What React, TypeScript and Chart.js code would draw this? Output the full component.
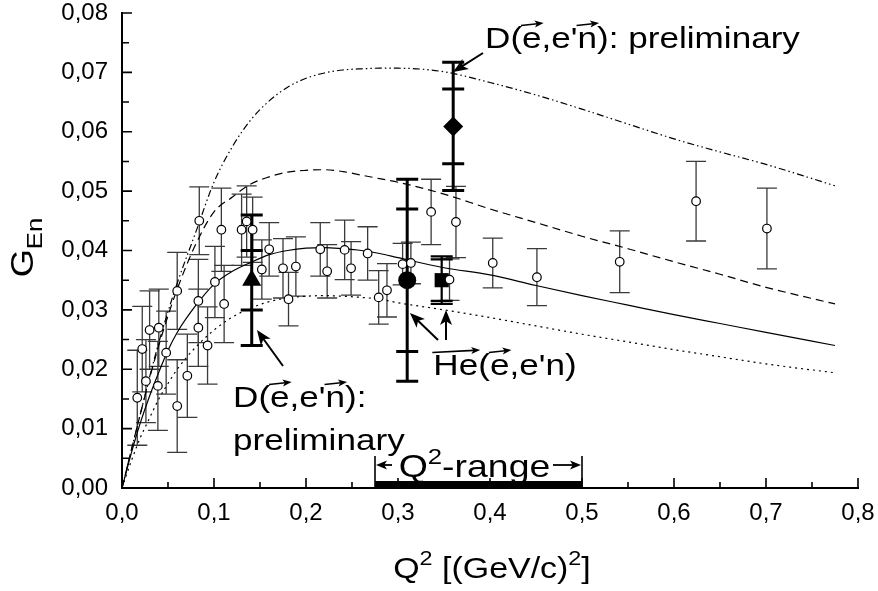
import React, { useEffect, useRef } from "react";
import { Chart, registerables } from "chart.js";
Chart.register(...registerables);

const FONT = '"Liberation Sans", Arial, Helvetica, sans-serif';

// ---- axis ticks ----
const xTickValues = [0, 0.1, 0.2, 0.3, 0.4, 0.5, 0.6, 0.7, 0.8];
const xTickLabels = ["0,0", "0,1", "0,2", "0,3", "0,4", "0,5", "0,6", "0,7", "0,8"];
const yTickValues = [0, 0.01, 0.02, 0.03, 0.04, 0.05, 0.06, 0.07, 0.08];
const yTickLabels = ["0,00", "0,01", "0,02", "0,03", "0,04", "0,05", "0,06", "0,07", "0,08"];

// ---- world data (open circles) ----
const worldQ2 = [0.0166, 0.022, 0.026, 0.03, 0.039, 0.04, 0.048, 0.06, 0.06, 0.071, 0.084, 0.083, 0.083, 0.093, 0.101, 0.108, 0.111, 0.13, 0.1355, 0.142, 0.152, 0.16, 0.175, 0.181, 0.189, 0.2155, 0.223, 0.242, 0.249, 0.267, 0.279, 0.288, 0.305, 0.314, 0.336, 0.363, 0.356, 0.403, 0.451, 0.541, 0.624, 0.701];
const worldG = [0.0152, 0.0234, 0.018, 0.0266, 0.0172, 0.027, 0.0228, 0.0332, 0.0138, 0.0189, 0.045, 0.0315, 0.027, 0.024, 0.0347, 0.0435, 0.031, 0.0435, 0.0449, 0.0435, 0.0368, 0.0402, 0.037, 0.0318, 0.0373, 0.0402, 0.0365, 0.0401, 0.037, 0.0395, 0.0321, 0.0333, 0.0377, 0.0379, 0.0465, 0.0448, 0.0351, 0.0379, 0.0355, 0.0381, 0.0483, 0.0437];
const worldErr = [0.008, 0.0072, 0.007, 0.0066, 0.0075, 0.0065, 0.007, 0.0065, 0.0078, 0.007, 0.0057, 0.007, 0.0065, 0.0065, 0.006, 0.007, 0.0065, 0.006, 0.006, 0.0055, 0.005, 0.0045, 0.005, 0.0045, 0.005, 0.0045, 0.0045, 0.005, 0.0045, 0.0045, 0.0045, 0.0045, 0.0035, 0.0035, 0.0055, 0.006, 0.0035, 0.0042, 0.0048, 0.0052, 0.0067, 0.0068];

// ---- new measurements (filled symbols) ----
const newQ2 = [0.141, 0.31, 0.3475, 0.36];
const newG = [0.035, 0.035, 0.035, 0.0609];
const newErrStat = [0.005, 0.012, 0.0035, 0.0063];
const newErrTot = [0.011, 0.017, 0.004, 0.0108];
const newStyles = ["triangle", "circle", "rect", "rectRot"];
const newRadius = [11, 9, 10, 10];

// ---- model curves ----
const curveQ2 = [0, 0.01, 0.02, 0.03, 0.04, 0.05, 0.06, 0.08, 0.1, 0.12, 0.14, 0.16, 0.18, 0.2, 0.22, 0.24, 0.26, 0.28, 0.3, 0.35, 0.4, 0.45, 0.5, 0.55, 0.6, 0.65, 0.7, 0.775];
const curveSolid = [0, 0.0058, 0.011, 0.0155, 0.0195, 0.0232, 0.0262, 0.0307, 0.0343, 0.0365, 0.038, 0.0393, 0.04, 0.0404, 0.0405, 0.0403, 0.04, 0.0395, 0.0388, 0.0371, 0.0359, 0.0341, 0.0324, 0.0308, 0.0292, 0.0277, 0.0262, 0.024];
const curveDashed = [0, 0.0063, 0.0125, 0.0185, 0.024, 0.029, 0.0335, 0.041, 0.0465, 0.049, 0.0512, 0.0524, 0.0532, 0.0535, 0.0536, 0.0533, 0.0527, 0.0521, 0.0515, 0.0495, 0.047, 0.0447, 0.0424, 0.0403, 0.0381, 0.036, 0.0338, 0.031];
const curveDotted = [0, 0.0045, 0.0085, 0.0118, 0.015, 0.0176, 0.02, 0.0237, 0.0266, 0.0288, 0.0303, 0.0314, 0.032, 0.0323, 0.0324, 0.0323, 0.0321, 0.0318, 0.0312, 0.03, 0.0287, 0.0273, 0.0259, 0.0246, 0.0233, 0.0221, 0.0209, 0.0194];
const curveDashDot = [0, 0.0063, 0.0125, 0.0187, 0.0245, 0.0297, 0.0345, 0.043, 0.0515, 0.0575, 0.062, 0.0652, 0.0675, 0.069, 0.0699, 0.0704, 0.0706, 0.0707, 0.0707, 0.0701, 0.0683, 0.0662, 0.0638, 0.0613, 0.0588, 0.0566, 0.0545, 0.0509];

// ---- Q2 range of the experiment ----
const rangeQ2 = [0.275, 0.5];

const SX = 1.17; // horizontal text stretch

type Seg = { t: string; size: number; dy?: number; vec?: boolean };

function segWidth(ctx: CanvasRenderingContext2D, s: Seg) {
  ctx.font = `${s.size}px ${FONT}`;
  return ctx.measureText(s.t).width * SX;
}

function drawArrow(ctx: CanvasRenderingContext2D, x1: number, y1: number, x2: number, y2: number, head = 13, half = 5, lw = 2) {
  const a = Math.atan2(y2 - y1, x2 - x1);
  const c = Math.cos(a), s = Math.sin(a);
  ctx.lineWidth = lw;
  ctx.beginPath();
  ctx.moveTo(x1, y1);
  ctx.lineTo(x2 - c * head * 0.7, y2 - s * head * 0.7);
  ctx.stroke();
  ctx.beginPath();
  ctx.moveTo(x2, y2);
  ctx.lineTo(x2 - c * head - s * half, y2 - s * head + c * half);
  ctx.lineTo(x2 - c * head * 0.75, y2 - s * head * 0.75);
  ctx.lineTo(x2 - c * head + s * half, y2 - s * head - c * half);
  ctx.closePath();
  ctx.fill();
}

function drawRich(ctx: CanvasRenderingContext2D, segs: Seg[], x: number, y: number, align: "left" | "center" = "left") {
  let total = 0;
  for (const s of segs) total += segWidth(ctx, s);
  let cx = align === "center" ? x - total / 2 : x;
  ctx.textAlign = "left";
  ctx.textBaseline = "alphabetic";
  for (const s of segs) {
    const w = segWidth(ctx, s);
    ctx.font = `${s.size}px ${FONT}`;
    ctx.save();
    ctx.translate(cx, y + (s.dy || 0));
    ctx.scale(SX, 1);
    ctx.fillText(s.t, 0, 0);
    ctx.restore();
    if (s.vec) {
      const ay = y - s.size * 0.8;
      drawArrow(ctx, cx - 1, ay + 1.5, cx + w + 2, ay - 1, 9, 3.5, 1.6);
    }
    cx += w;
  }
  return total;
}

const decorPlugin = {
  id: "decor",
  beforeDatasetsDraw(chart: any) {
    const ctx: CanvasRenderingContext2D = chart.ctx;
    const xs = chart.scales.x, ys = chart.scales.y;
    ctx.save();
    ctx.lineCap = "butt";
    // world error bars
    ctx.strokeStyle = "#3a3a3a";
    ctx.lineWidth = 1.3;
    for (let i = 0; i < worldQ2.length; i++) {
      const px = xs.getPixelForValue(worldQ2[i]);
      const t = ys.getPixelForValue(worldG[i] + worldErr[i]);
      const b = ys.getPixelForValue(worldG[i] - worldErr[i]);
      ctx.beginPath();
      ctx.moveTo(px, t); ctx.lineTo(px, b);
      ctx.moveTo(px - 10, t); ctx.lineTo(px + 10, t);
      ctx.moveTo(px - 10, b); ctx.lineTo(px + 10, b);
      ctx.stroke();
    }
    // new measurement error bars
    ctx.strokeStyle = "#000";
    for (let i = 0; i < newQ2.length; i++) {
      const px = xs.getPixelForValue(newQ2[i]);
      const tt = ys.getPixelForValue(newG[i] + newErrTot[i]);
      const bt = ys.getPixelForValue(newG[i] - newErrTot[i]);
      const ts = ys.getPixelForValue(newG[i] + newErrStat[i]);
      const bs = ys.getPixelForValue(newG[i] - newErrStat[i]);
      const thin = newStyles[i] === "rect";
      ctx.lineWidth = thin ? 2.2 : 3;
      const hw = 11;
      ctx.beginPath();
      ctx.moveTo(px, tt); ctx.lineTo(px, bt);
      for (const yy of [tt, bt, ts, bs]) {
        ctx.moveTo(px - hw, yy); ctx.lineTo(px + hw, yy);
      }
      ctx.stroke();
    }
    ctx.restore();
  },
  afterDraw(chart: any) {
    const ctx: CanvasRenderingContext2D = chart.ctx;
    const xs = chart.scales.x, ys = chart.scales.y;
    const area = chart.chartArea;
    const X = (v: number) => xs.getPixelForValue(v);
    const Y = (v: number) => ys.getPixelForValue(v);
    ctx.save();
    ctx.strokeStyle = "#000";
    ctx.fillStyle = "#000";
    // inward ticks
    ctx.lineWidth = 1.6;
    ctx.beginPath();
    for (let i = 0; i < xTickValues.length; i++) {
      const px = X(xTickValues[i]);
      ctx.moveTo(px, area.bottom); ctx.lineTo(px, area.bottom - 10);
      if (i < xTickValues.length - 1) {
        const pm = X((xTickValues[i] + xTickValues[i + 1]) / 2);
        ctx.moveTo(pm, area.bottom); ctx.lineTo(pm, area.bottom - 6);
      }
    }
    for (let i = 0; i < yTickValues.length; i++) {
      const py = Y(yTickValues[i]);
      ctx.moveTo(area.left, py); ctx.lineTo(area.left + 10, py);
      if (i < yTickValues.length - 1) {
        const pm = Y((yTickValues[i] + yTickValues[i + 1]) / 2);
        ctx.moveTo(area.left, pm); ctx.lineTo(area.left + 7, pm);
      }
    }
    ctx.stroke();

    // Q2 range bar
    const r0 = X(rangeQ2[0]), r1 = X(rangeQ2[1]);
    ctx.fillRect(r0, area.bottom - 7, r1 - r0, 7);
    ctx.lineWidth = 1.6;
    ctx.beginPath();
    ctx.moveTo(r0, area.bottom); ctx.lineTo(r0, area.bottom - 32);
    ctx.moveTo(r1, area.bottom); ctx.lineTo(r1, area.bottom - 32);
    ctx.stroke();
    const ay = area.bottom - 23;
    drawArrow(ctx, r0 + 17, ay, r0 + 1, ay, 11, 4.5, 1.8);
    drawArrow(ctx, r1 - 29, ay, r1 - 1, ay, 11, 4.5, 1.8);
    drawRich(ctx, [
      { t: "Q", size: 32 },
      { t: "2", size: 22, dy: -13 },
      { t: "-range", size: 32 },
    ], (r0 + r1) / 2 - 4, area.bottom - 11, "center");

    // annotations
    drawRich(ctx, [
      { t: "D(", size: 30 }, { t: "e", size: 30, vec: true }, { t: ",e'", size: 30 }, { t: "n", size: 30, vec: true }, { t: "): preliminary", size: 30 },
    ], X(0.3946), Y(0.0741));
    drawRich(ctx, [
      { t: "D(", size: 30 }, { t: "e", size: 30, vec: true }, { t: ",e'", size: 30 }, { t: "n", size: 30, vec: true }, { t: "):", size: 30 },
    ], X(0.1207), Y(0.01364));
    drawRich(ctx, [{ t: "preliminary", size: 30 }], X(0.1207), Y(0.0064));
    drawRich(ctx, [
      { t: "He", size: 30, vec: true }, { t: "(", size: 30 }, { t: "e", size: 30, vec: true }, { t: ",e'n)", size: 30 },
    ], X(0.3384), Y(0.01903));

    // annotation arrows
    drawArrow(ctx, X(0.3924), Y(0.07326), X(0.3598), Y(0.07006), 15, 6, 2);
    drawArrow(ctx, X(0.175), Y(0.02055), X(0.1467), Y(0.02661), 15, 6, 2);
    drawArrow(ctx, X(0.3435), Y(0.02493), X(0.313), Y(0.02947), 15, 6, 2);
    drawArrow(ctx, X(0.3522), Y(0.02493), X(0.3522), Y(0.02998), 15, 6, 2);

    // axis titles
    drawRich(ctx, [
      { t: "Q", size: 29 }, { t: "2", size: 20, dy: -13 }, { t: " [(GeV/c)", size: 29 }, { t: "2", size: 20, dy: -13 }, { t: "]", size: 29 },
    ], (area.left + area.right) / 2 + 2, area.bottom + 90, "center");
    ctx.save();
    ctx.translate(33, (area.top + area.bottom) / 2 - 3);
    ctx.rotate(-Math.PI / 2);
    drawRich(ctx, [{ t: "G", size: 31 }, { t: "En", size: 22, dy: 9 }], 0, 0, "center");
    ctx.restore();
    ctx.restore();
  },
};

export default function App() {
  const ref = useRef<HTMLCanvasElement | null>(null);
  useEffect(() => {
    if (!ref.current) return;
    const curve = (ys: number[], dash: number[]) => ({
      type: "scatter" as const,
      data: curveQ2.map((q, i) => ({ x: q, y: ys[i] })),
      showLine: true,
      borderColor: "#000",
      borderWidth: 1.2,
      borderDash: dash,
      pointRadius: 0,
      cubicInterpolationMode: "monotone" as const,
      fill: false,
    });
    const noPad = (s: any) => { s.paddingLeft = 0; s.paddingRight = 0; s.paddingTop = 0; s.paddingBottom = 0; };
    const chart = new Chart(ref.current, {
      type: "scatter",
      data: {
        datasets: [
          {
            label: "world data",
            data: worldQ2.map((q, i) => ({ x: q, y: worldG[i] })),
            pointStyle: "circle",
            pointRadius: 4.3,
            backgroundColor: "#fff",
            borderColor: "#000",
            borderWidth: 1.2,
          },
          {
            label: "new",
            data: newQ2.map((q, i) => ({ x: q, y: newG[i] })),
            pointStyle: newStyles as any,
            pointRadius: newRadius,
            backgroundColor: "#000",
            borderColor: "#000",
            borderWidth: 0,
          },
          { label: "solid", ...curve(curveSolid, []) },
          { label: "dashed", ...curve(curveDashed, [8, 5]) },
          { label: "dotted", ...curve(curveDotted, [2, 4]) },
          { label: "dashdot", ...curve(curveDashDot, [7, 3, 1.5, 3, 1.5, 3]) },
        ] as any,
      },
      options: {
        animation: false,
        responsive: false,
        devicePixelRatio: 1,
        events: [],
        layout: { padding: { left: 0, top: 13, right: 20, bottom: 0 } },
        plugins: { legend: { display: false }, tooltip: { enabled: false }, title: { display: false } },
        scales: {
          x: {
            type: "linear",
            min: 0,
            max: 0.8,
            afterBuildTicks: (s: any) => { s.ticks = xTickValues.map((v) => ({ value: v })); },
            afterFit: (s: any) => { s.height = 103; noPad(s); },
            ticks: {
              callback: (_v: any, i: number) => xTickLabels[i],
              font: { family: FONT, size: 24 },
              color: "#000",
              padding: 11,
              maxRotation: 0,
              autoSkip: false,
            },
            grid: { display: false, drawTicks: false },
            border: { display: true, color: "#000", width: 2 },
          },
          y: {
            type: "linear",
            min: 0,
            max: 0.08,
            afterBuildTicks: (s: any) => { s.ticks = yTickValues.map((v) => ({ value: v })); },
            afterFit: (s: any) => { s.width = 122; noPad(s); },
            ticks: {
              callback: (_v: any, i: number) => yTickLabels[i],
              font: { family: FONT, size: 24 },
              color: "#000",
              padding: 14,
              autoSkip: false,
            },
            grid: { display: false, drawTicks: false },
            border: { display: true, color: "#000", width: 2 },
          },
        },
      } as any,
      plugins: [decorPlugin],
    });
    return () => chart.destroy();
  }, []);
  return (
    <div style={{ position: "fixed", left: 0, top: 0, width: 878, height: 591, background: "#fff" }}>
      <canvas ref={ref} width={878} height={591} style={{ display: "block" }} />
    </div>
  );
}
